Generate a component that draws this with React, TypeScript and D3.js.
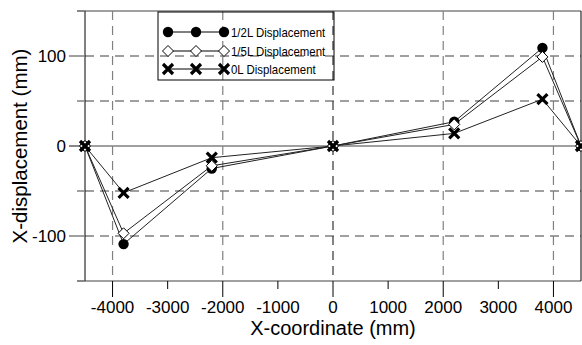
import React from "react";
import * as d3 from "d3";

const xCoords = [-4500, -3800, -2200, 0, 2200, 3800, 4500];
const halfL = [0, -109, -25, 0, 27, 109, 0];
const fifthL = [0, -97, -22, 0, 24, 99, 0];
const zeroL = [0, -52, -13, 0, 14, 52, 0];
const seriesNames = ["1/2L Displacement", "1/5L Displacement", "0L Displacement"];
const xMajorTicks = [-4000, -2000, 0, 2000, 4000];
const xMinorTicks = [-3000, -1000, 1000, 3000];
const xTickLabels = [-4000, -3000, -2000, -1000, 0, 1000, 2000, 3000, 4000];
const yMajorTicks = [-100, 0, 100];
const yMinorTicks = [-150, -50, 50, 150];
const yGrid = [-100, -50, 50, 100];

const W = 582;
const H = 345;
const FONT = "'Liberation Sans', Arial, sans-serif";

function Marker({ kind, x, y }: { kind: number; x: number; y: number }) {
  if (kind === 0) return <circle cx={x} cy={y} r={5.2} fill="#000" />;
  if (kind === 1)
    return (
      <path
        d={`M${x},${y - 5.5}L${x + 5.5},${y}L${x},${y + 5.5}L${x - 5.5},${y}Z`}
        fill="#fff"
        stroke="#000"
        strokeWidth={1}
      />
    );
  const s = 5;
  return (
    <path
      d={`M${x - s},${y - s}L${x + s},${y + s}M${x - s},${y + s}L${x + s},${y - s}`}
      stroke="#000"
      strokeWidth={3.2}
    />
  );
}

export default function App() {
  const x = d3.scaleLinear().domain([-4500, 4500]).range([85, 581]);
  const y = d3.scaleLinear().domain([-150, 150]).range([281, 11]);
  const series = [halfL, fifthL, zeroL];
  const line = d3
    .line<number>()
    .x((_, i) => x(xCoords[i]))
    .y((d) => y(d));

  const legX = 158;
  const legY = 12;
  const rowsY = [32, 51, 69];
  const legMarks = [168, 196, 224];

  return (
    <div style={{ position: "absolute", left: 0, top: 0 }}>
      <svg width={W} height={H} style={{ display: "block", background: "#fff" }}>
        {/* horizontal grid */}
        {yGrid.map((v) => (
          <line key={"hg" + v} x1={85} x2={581} y1={y(v)} y2={y(v)} stroke="#808080" strokeWidth={1.5} strokeDasharray="9,6" />
        ))}
        {/* vertical grid */}
        {xMajorTicks.map((v) => (
          <line key={"vg" + v} x1={x(v)} x2={x(v)} y1={11} y2={281} stroke={v === 0 ? "#333" : "#808080"} strokeWidth={1.2} strokeDasharray="9,6" />
        ))}
        {/* zero line */}
        <line x1={69} x2={581} y1={y(0)} y2={y(0)} stroke="#808080" strokeWidth={1.5} />
        {/* frame */}
        <line x1={77} x2={581} y1={y(150)} y2={y(150)} stroke="#808080" strokeWidth={1.5} />
        <line x1={77} x2={581} y1={y(-150)} y2={y(-150)} stroke="#808080" strokeWidth={1.5} />
        <line x1={85} x2={85} y1={11} y2={281} stroke="#000" strokeWidth={1} />
        <line x1={581} x2={581} y1={11} y2={281} stroke="#000" strokeWidth={1} />
        {/* y ticks */}
        {yMajorTicks.map((v) => (
          <line key={"ymt" + v} x1={69} x2={85} y1={y(v)} y2={y(v)} stroke="#808080" strokeWidth={1.5} />
        ))}
        {yMinorTicks.map((v) => (
          <line key={"ymn" + v} x1={77} x2={85} y1={y(v)} y2={y(v)} stroke="#808080" strokeWidth={1.5} />
        ))}
        {yMajorTicks.map((v) => (
          <text key={"yl" + v} x={66} y={y(v)} dy="0.35em" textAnchor="end" fontFamily={FONT} fontSize={17} fill="#000">
            {v}
          </text>
        ))}
        {/* x ticks */}
        {xMajorTicks.map((v) => (
          <line key={"xmt" + v} x1={x(v)} x2={x(v)} y1={281} y2={297} stroke="#000" strokeWidth={1} />
        ))}
        {xMinorTicks.map((v) => (
          <line key={"xmn" + v} x1={x(v)} x2={x(v)} y1={281} y2={289} stroke="#000" strokeWidth={1} />
        ))}
        {xTickLabels.map((v) => (
          <text key={"xl" + v} x={x(v)} y={307} dy="0.35em" textAnchor="middle" fontFamily={FONT} fontSize={17} fill="#000">
            {v}
          </text>
        ))}
        {/* axis titles */}
        <text x={333} y={328} dy="0.35em" textAnchor="middle" fontFamily={FONT} fontSize={20} fill="#000">
          X-coordinate (mm)
        </text>
        <text transform={`translate(20,146) rotate(-90)`} dy="0.35em" textAnchor="middle" fontFamily={FONT} fontSize={20.5} fill="#000">
          X-displacement (mm)
        </text>
        {/* series lines */}
        {series.map((s, i) => (
          <path key={"s" + i} d={line(s) || ""} fill="none" stroke="#222" strokeWidth={1} />
        ))}
        {/* markers */}
        {series.map((s, i) =>
          s.map((v, j) => <Marker key={`m${i}-${j}`} kind={i} x={x(xCoords[j])} y={y(v)} />)
        )}
        {/* legend */}
        <rect x={legX} y={legY} width={176} height={68} fill="none" stroke="#000" strokeWidth={1} />
        {seriesNames.map((name, i) => (
          <g key={"lg" + i}>
            <line x1={legMarks[0]} x2={legMarks[2]} y1={rowsY[i]} y2={rowsY[i]} stroke="#000" strokeWidth={1} />
            {legMarks.map((mx) => (
              <Marker key={"lm" + mx} kind={i} x={mx} y={rowsY[i]} />
            ))}
            <text
              transform={`translate(231,${rowsY[i]}) scale(0.88,1)`}
              dy="0.35em"
              fontFamily={FONT}
              fontSize={13}
              fill="#000"
            >
              {name}
            </text>
          </g>
        ))}
      </svg>
    </div>
  );
}
